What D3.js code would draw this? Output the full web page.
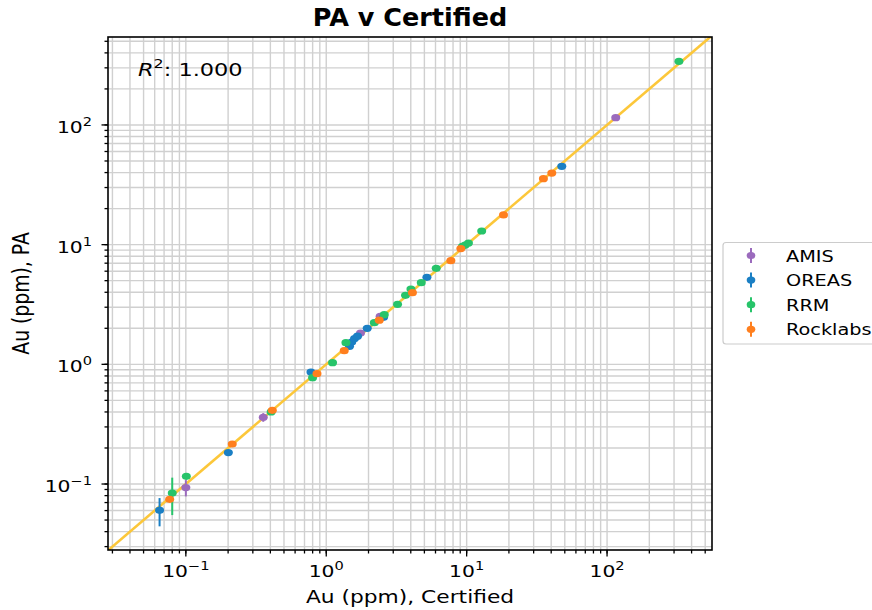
<!DOCTYPE html>
<html>
<head>
<meta charset="utf-8">
<script src="https://cdn.jsdelivr.net/npm/d3@7"></script>
<style>
  html, body { margin: 0; padding: 0; background: #fff; }
  svg { display: block; font-family: "DejaVu Sans", sans-serif; }
</style>
</head>
<body>
<svg id="chart" width="872" height="610"></svg>
<script>
// ---- data (ppm) ----
const seriesNames = ["AMIS", "OREAS", "RRM", "Rocklabs"];

const amisCert = [0.100, 0.356, 1.754, 2.42, 115.3];
const amisPA   = [0.0933, 0.361, 1.825, 2.52, 115.0];
const amisErr  = [0.0145, 0.030, 0.05, 0.06, 2.0];

const oreasCert = [0.065, 0.2007, 0.778, 1.465, 1.52, 1.59, 1.67, 1.958, 2.56, 5.21, 47.6];
const oreasPA   = [0.0603, 0.183, 0.862, 1.414, 1.535, 1.64, 1.72, 2.00, 2.47, 5.33, 45.1];
const oreasErr  = [0.016, 0.004, 0.02, 0.03, 0.03, 0.03, 0.03, 0.04, 0.05, 0.10, 1.0];

const rrmCert = [0.080, 0.1008, 0.405, 0.799, 1.109, 1.381, 2.20, 2.59, 3.22, 3.67, 4.01, 4.75, 6.07, 9.34, 9.76, 10.3, 12.8, 325];
const rrmPA   = [0.084, 0.116, 0.400, 0.774, 1.033, 1.517, 2.23, 2.60, 3.17, 3.77, 4.26, 4.81, 6.34, 9.68, 9.93, 10.3, 13.0, 340];
const rrmErr  = [0.029, 0.004, 0.008, 0.02, 0.02, 0.03, 0.04, 0.05, 0.06, 0.07, 0.08, 0.09, 0.12, 0.2, 0.2, 0.2, 0.25, 6];

const rockCert = [0.0767, 0.214, 0.413, 0.859, 1.343, 2.385, 4.11, 7.72, 9.09, 18.3, 35.2, 40.4];
const rockPA   = [0.0745, 0.216, 0.413, 0.836, 1.300, 2.34, 3.97, 7.35, 9.27, 17.7, 35.6, 39.6];
const rockErr  = [0.003, 0.004, 0.008, 0.02, 0.03, 0.04, 0.08, 0.15, 0.18, 0.35, 0.7, 0.8];

const seriesColors = ["#9b6bbd", "#1a7fc4", "#27c46a", "#ff7f1e"];
const r2Text = "1.000";
const majorTicks = [0.1, 1, 10, 100];
const majorExps = ["\u22121", "0", "1", "2"];

// ---- layout ----
const L = 108, R = 712, T = 37, B = 550;
const SX = 1.27; // horizontal stretch of the reference's text
const x = d3.scaleLog().domain([0.0279, 559]).range([L, R]);
const y = d3.scaleLog().domain([0.0281, 543]).range([B, T]);

const svg = d3.select("#chart");

function minorTicks(dom) {
  const out = [];
  for (let e = -3; e <= 3; e++) {
    for (let m = 1; m <= 9; m++) {
      const v = m * Math.pow(10, e);
      if (v >= dom[0] && v <= dom[1]) out.push(v);
    }
  }
  return out;
}
const xMinor = minorTicks(x.domain());
const yMinor = minorTicks(y.domain());

// grid
const grid = svg.append("g").attr("stroke", "#d0d0d0").attr("stroke-width", 1.4);
grid.selectAll("line.gx").data(xMinor).join("line")
  .attr("x1", d => x(d)).attr("x2", d => x(d)).attr("y1", T).attr("y2", B);
grid.selectAll("line.gy").data(yMinor).join("line")
  .attr("x1", L).attr("x2", R).attr("y1", d => y(d)).attr("y2", d => y(d));

svg.append("clipPath").attr("id", "clip").append("rect")
  .attr("x", L).attr("y", T).attr("width", R - L).attr("height", B - T);

// 1:1 fit line
const lo = Math.max(x.domain()[0], y.domain()[0]) * 0.9;
const hi = Math.min(x.domain()[1], y.domain()[1]) * 1.1;
svg.append("line").attr("clip-path", "url(#clip)")
  .attr("x1", x(lo)).attr("y1", y(lo)).attr("x2", x(hi)).attr("y2", y(hi))
  .attr("stroke", "#fcc73a").attr("stroke-width", 2.6);

// points
const allSeries = [
  [amisCert, amisPA, amisErr],
  [oreasCert, oreasPA, oreasErr],
  [rrmCert, rrmPA, rrmErr],
  [rockCert, rockPA, rockErr]
];
const pts = svg.append("g").attr("clip-path", "url(#clip)");
allSeries.forEach((s, i) => {
  const data = s[0].map((c, k) => ({ c, p: s[1][k], e: s[2][k] }));
  const g = pts.append("g");
  g.selectAll("line").data(data).join("line")
    .attr("x1", d => x(d.c)).attr("x2", d => x(d.c))
    .attr("y1", d => y(d.p + d.e)).attr("y2", d => y(Math.max(d.p - d.e, 1e-4)))
    .attr("stroke", seriesColors[i]).attr("stroke-width", 2);
  g.selectAll("ellipse").data(data).join("ellipse")
    .attr("cx", d => x(d.c)).attr("cy", d => y(d.p))
    .attr("rx", 4.5).attr("ry", 3.6)
    .attr("fill", seriesColors[i]);
});

// spines
svg.append("rect").attr("x", L).attr("y", T).attr("width", R - L).attr("height", B - T)
  .attr("fill", "none").attr("stroke", "#000").attr("stroke-width", 1.6);

// ticks
const tk = svg.append("g").attr("stroke", "#000").attr("stroke-width", 1.3);
tk.selectAll("line.xm").data(xMinor).join("line")
  .attr("x1", d => x(d)).attr("x2", d => x(d)).attr("y1", B).attr("y2", B + 3.5);
tk.selectAll("line.ym").data(yMinor).join("line")
  .attr("y1", d => y(d)).attr("y2", d => y(d)).attr("x1", L).attr("x2", L - 3.5);
tk.selectAll("line.xM").data(majorTicks).join("line")
  .attr("x1", d => x(d)).attr("x2", d => x(d)).attr("y1", B).attr("y2", B + 6.5);
tk.selectAll("line.yM").data(majorTicks).join("line")
  .attr("y1", d => y(d)).attr("y2", d => y(d)).attr("x1", L).attr("x2", L - 6.5);

// helper: stretched text
function stext(px, py, anchor, size, sx) {
  return svg.append("g").attr("transform", `translate(${px},${py}) scale(${sx},1)`)
    .append("text").attr("text-anchor", anchor).attr("font-size", size).attr("fill", "#000");
}

// tick labels
majorTicks.forEach((v, i) => {
  const t = stext(x(v), 577, "middle", 16, SX);
  t.append("tspan").text("10");
  t.append("tspan").attr("font-size", 11.5).attr("dy", -7).text(majorExps[i]);
});
majorTicks.forEach((v, i) => {
  const t = stext(92, y(v) + 8, "end", 16, SX);
  t.append("tspan").text("10");
  t.append("tspan").attr("font-size", 11.5).attr("dy", -7).text(majorExps[i]);
});

// axis labels
stext((L + R) / 2, 603, "middle", 17, 1.28).text("Au (ppm), Certified");
svg.append("g").attr("transform", `translate(29,${(T + B) / 2}) scale(1.2,1) rotate(-90)`)
  .append("text").attr("text-anchor", "middle").attr("font-size", 18.8).text("Au (ppm), PA");

// title
svg.append("text").attr("x", (L + R) / 2).attr("y", 26).attr("text-anchor", "middle")
  .attr("font-size", 25.5).attr("font-weight", "bold").text("PA v Certified");

// R^2 annotation
const r2 = stext(138, 76, "start", 18.4, 1.22);
r2.append("tspan").attr("font-style", "italic").text("R");
r2.append("tspan").attr("font-size", 13).attr("dy", -8).text("2");
r2.append("tspan").attr("dy", 8).text(": " + r2Text);

// legend
const lg = svg.append("g");
lg.append("rect").attr("x", 723).attr("y", 242.5).attr("width", 160).attr("height", 101.5)
  .attr("rx", 3).attr("fill", "#fff").attr("fill-opacity", 0.8)
  .attr("stroke", "#cccccc").attr("stroke-width", 1.2);
seriesNames.forEach((n, i) => {
  const cy = 255.5 + i * 24.6;
  lg.append("line").attr("x1", 751).attr("x2", 751).attr("y1", cy - 7.5).attr("y2", cy + 7.5)
    .attr("stroke", seriesColors[i]).attr("stroke-width", 2);
  lg.append("ellipse").attr("cx", 751).attr("cy", cy).attr("rx", 4.3).attr("ry", 3.6).attr("fill", seriesColors[i]);
  const t = svg.append("g").attr("transform", `translate(786,${cy + 6}) scale(1.17,1)`)
    .append("text").attr("font-size", 16.5).text(n);
});
</script>
</body>
</html>
